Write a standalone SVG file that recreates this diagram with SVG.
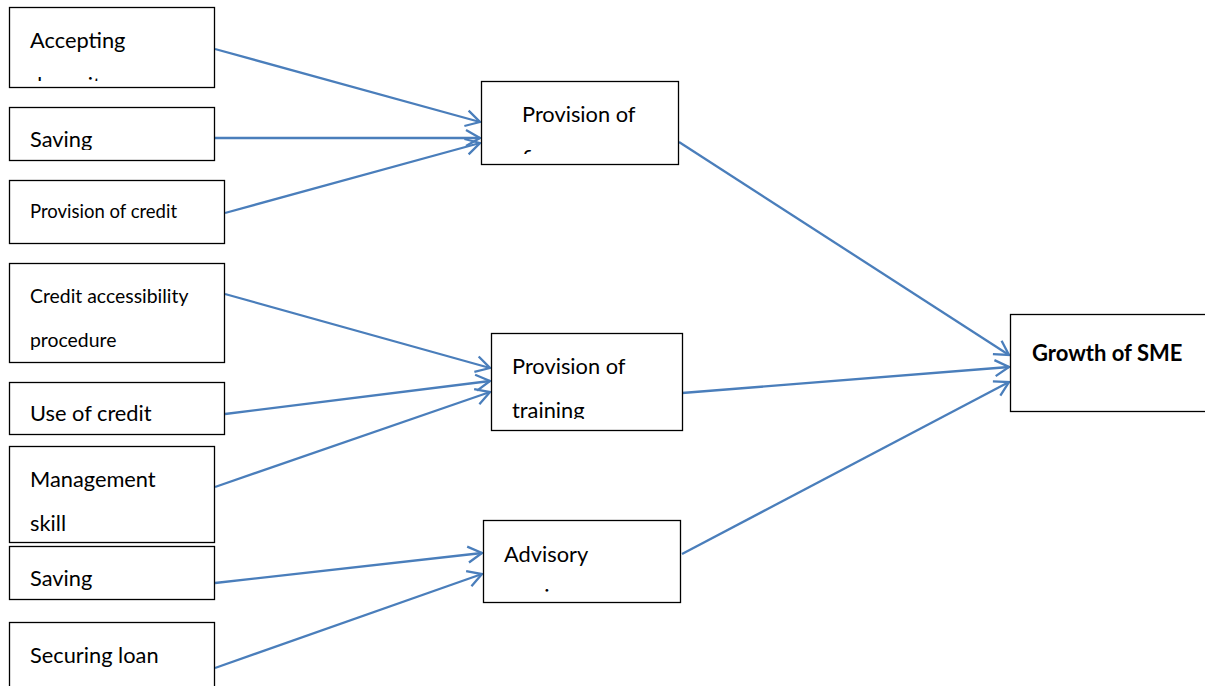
<svg xmlns="http://www.w3.org/2000/svg" width="1205" height="686" viewBox="0 0 1205 686">
  <style>
    .box { fill: #ffffff; stroke: #000000; stroke-width: 1.3; }
    .lbl { font-family: Lato, "Open Sans", sans-serif; font-size: 21.8px; fill: #000000; }
    .sm { font-size: 18.5px; }
    .md { font-size: 19.4px; }
    .bold { font-weight: bold; font-size: 22px; }
    .conn { stroke: #4A7EBB; stroke-width: 2.3; fill: none; marker-end: url(#arrow); }
  </style>
  <defs>
    <marker id="arrow" markerUnits="userSpaceOnUse" markerWidth="20" markerHeight="20" refX="0" refY="0" viewBox="-16 -10 18 20" orient="auto" overflow="visible">
      <path d="M-14,-8 L0,0 L-14,8" fill="none" stroke="#4A7EBB" stroke-width="2.3"/>
    </marker>
    <!-- text areas inside boxes that cut off overflowing second lines -->
    <clipPath id="c-accept"><rect x="10" y="8" width="204" height="73"/></clipPath>
    <clipPath id="c-save1"><rect x="10" y="108" width="204" height="42"/></clipPath>
    <clipPath id="c-fin"><rect x="482" y="82" width="196" height="72"/></clipPath>
    <clipPath id="c-train"><rect x="492" y="334" width="190" height="85"/></clipPath>
    <clipPath id="c-adv"><rect x="484" y="521" width="196" height="72"/></clipPath>
  </defs>

  <g id="connectors">
    <line class="conn" x1="215" y1="49" x2="480" y2="122"/>
    <line class="conn" x1="215" y1="138" x2="480" y2="138"/>
    <line class="conn" x1="225" y1="213" x2="480" y2="143"/>
    <line class="conn" x1="225" y1="294" x2="490" y2="368"/>
    <line class="conn" x1="225" y1="414" x2="490" y2="381"/>
    <line class="conn" x1="215" y1="487" x2="490" y2="392"/>
    <line class="conn" x1="215" y1="583" x2="482" y2="553"/>
    <line class="conn" x1="215" y1="668" x2="482" y2="574"/>
    <line class="conn" x1="679" y1="142" x2="1009" y2="355"/>
    <line class="conn" x1="682" y1="393" x2="1009" y2="367"/>
    <line class="conn" x1="682" y1="554" x2="1009" y2="382"/>
  </g>

  <g id="accepting-deposits">
    <rect class="box" x="9.5" y="7.5" width="205" height="80"/>
    <g clip-path="url(#c-accept)">
      <text class="lbl" x="30" y="48">Accepting</text>
      <text class="lbl" x="30" y="93">deposits</text>
    </g>
  </g>

  <g id="saving-1">
    <rect class="box" x="9.5" y="107.5" width="205" height="53"/>
    <g clip-path="url(#c-save1)">
      <text class="lbl" x="30" y="147">Saving</text>
    </g>
  </g>

  <g id="provision-credit">
    <rect class="box" x="9.5" y="180.5" width="215" height="63"/>
    <text class="lbl sm" x="30" y="218">Provision of credit</text>
  </g>

  <g id="credit-accessibility">
    <rect class="box" x="9.5" y="263.5" width="215" height="99"/>
    <text class="lbl md" x="30" y="303">Credit accessibility</text>
    <text class="lbl md" x="30" y="347">procedure</text>
  </g>

  <g id="use-of-credit">
    <rect class="box" x="9.5" y="382.5" width="215" height="52"/>
    <text class="lbl" x="30" y="421">Use of credit</text>
  </g>

  <g id="management-skill">
    <rect class="box" x="9.5" y="446.5" width="205" height="96"/>
    <text class="lbl" x="30" y="487">Management</text>
    <text class="lbl" x="30" y="531">skill</text>
  </g>

  <g id="saving-2">
    <rect class="box" x="9.5" y="546.5" width="205" height="53"/>
    <text class="lbl" x="30" y="586">Saving</text>
  </g>

  <g id="securing-loan">
    <rect class="box" x="9.5" y="622.5" width="205" height="70"/>
    <text class="lbl" x="30" y="663">Securing loan</text>
  </g>

  <g id="provision-finance">
    <rect class="box" x="481.5" y="81.5" width="197" height="83"/>
    <g clip-path="url(#c-fin)">
      <text class="lbl" x="522" y="122">Provision of</text>
      <text class="lbl" x="522" y="166">finance</text>
    </g>
  </g>

  <g id="provision-training">
    <rect class="box" x="491.5" y="333.5" width="191" height="97"/>
    <g clip-path="url(#c-train)">
      <text class="lbl" x="512" y="374">Provision of</text>
      <text class="lbl" x="512" y="418">training</text>
    </g>
  </g>

  <g id="advisory-service">
    <rect class="box" x="483.5" y="520.5" width="197" height="82"/>
    <g clip-path="url(#c-adv)">
      <text class="lbl" x="504" y="562">Advisory</text>
      <text class="lbl" x="504" y="605">service</text>
    </g>
  </g>

  <g id="growth-sme">
    <rect class="box" x="1010.5" y="314.5" width="200" height="97"/>
    <text class="lbl bold" x="1032" y="361">Growth of SME</text>
  </g>
</svg>
